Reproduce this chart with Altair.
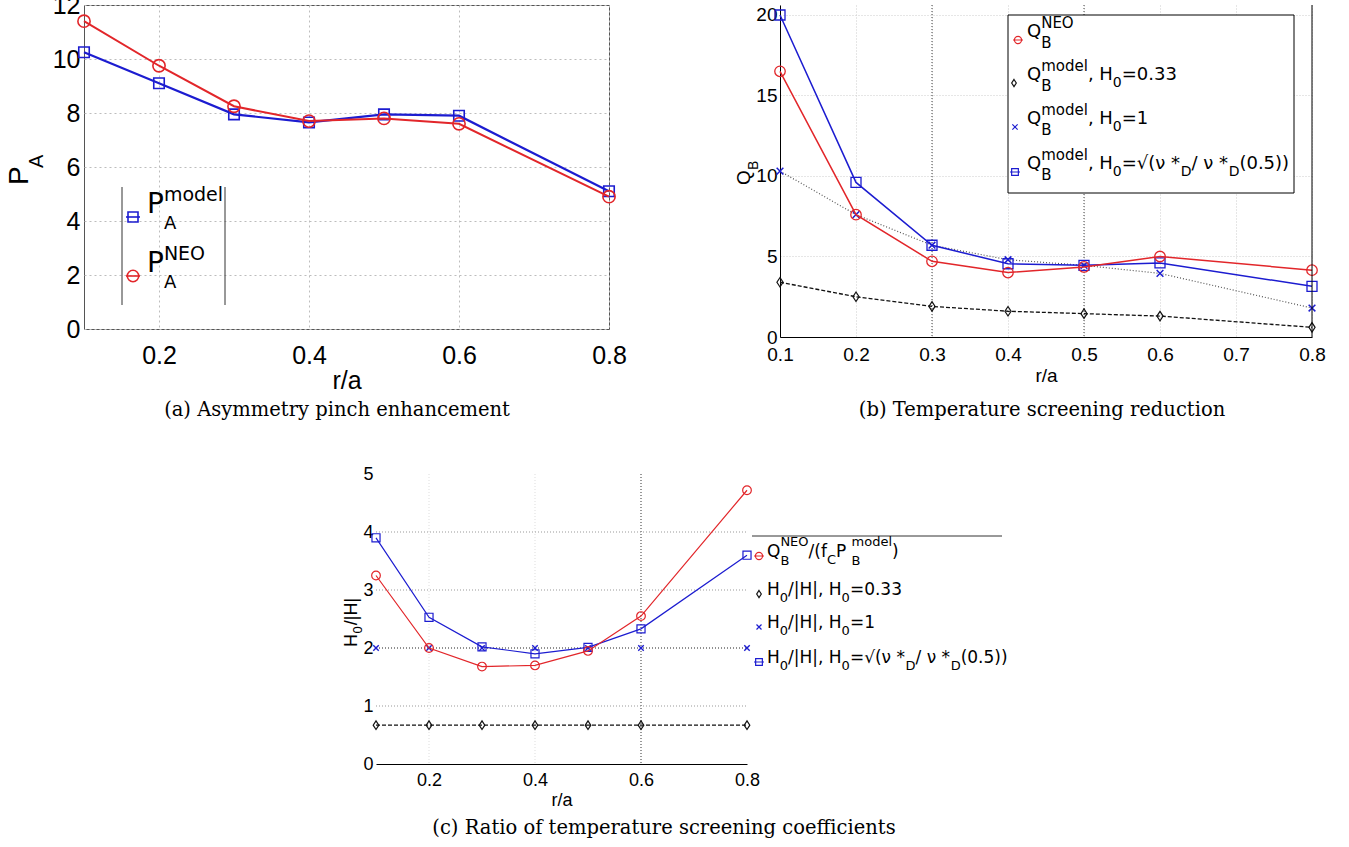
import altair as alt
import pandas as pd

# ---------------- data ----------------
r_vals = [0.1, 0.2, 0.3, 0.4, 0.5, 0.6, 0.8]

# (a) asymmetry pinch enhancement
pa_model = [10.25, 9.1, 7.95, 7.65, 7.95, 7.9, 5.1]
pa_neo = [11.4, 9.75, 8.25, 7.7, 7.8, 7.6, 4.9]

# (b) temperature screening reduction
qb_neo = [16.5, 7.6, 4.7, 4.0, 4.35, 5.0, 4.15]
qb_h033 = [3.4, 2.5, 1.9, 1.6, 1.45, 1.3, 0.6]
qb_h1 = [10.3, 7.6, 5.7, 4.8, 4.45, 3.95, 1.8]
qb_hsqrt = [20.0, 9.6, 5.7, 4.55, 4.45, 4.6, 3.15]

# (c) ratio of temperature screening coefficients
hc_neo = [3.25, 2.0, 1.68, 1.7, 1.95, 2.55, 4.72]
hc_h033 = [0.67, 0.67, 0.67, 0.67, 0.67, 0.67, 0.67]
hc_h1 = [2.0, 2.0, 2.0, 2.0, 2.0, 2.0, 2.0]
hc_hsqrt = [3.9, 2.53, 2.02, 1.9, 2.01, 2.33, 3.6]

a_xticks = [0.2, 0.4, 0.6, 0.8]
a_yticks = [0, 2, 4, 6, 8, 10, 12]
b_xticks = [0.1, 0.2, 0.3, 0.4, 0.5, 0.6, 0.7, 0.8]
b_yticks = [0, 5, 10, 15, 20]
b_dark_grid = [0.3, 0.5]
c_xticks = [0.2, 0.4, 0.6, 0.8]
c_yticks = [0, 1, 2, 3, 4, 5]
c_hgrid = [1, 2, 3, 4]
c_vgrid = [0.2, 0.4]
c_vgrid_dark = [0.6]

captions = ["(a) Asymmetry pinch enhancement",
            "(b) Temperature screening reduction",
            "(c) Ratio of temperature screening coefficients"]

# ---------------- styles ----------------
SANS = "Liberation Sans, Arial, Helvetica, sans-serif"
DV = "DejaVu Sans"
SERIF = "DejaVu Serif"
BLUE = "#1c1cd0"
RED = "#e2262a"
BLACK = "#111111"
DIAMOND = "M0,-1L0.65,0L0,1L-0.65,0Z"
XSHAPE = "M-1,-1L1,1M-1,1L1,-1"
CAP_SIZE = 19.5

ONE = alt.Data(values=[{"k": 0}])

W = {' ': 0.318, ',': 0.318, '.': 0.318, '/': 0.337, '|': 0.337, '(': 0.390,
     ')': 0.390, '*': 0.500, '=': 0.838, 'A': 0.684, 'B': 0.686, 'C': 0.698,
     'D': 0.770, 'E': 0.632, 'H': 0.752, 'N': 0.748, 'O': 0.787, 'P': 0.603,
     'Q': 0.787, 'd': 0.635, 'e': 0.615, 'f': 0.352, 'l': 0.278, 'm': 0.974,
     'o': 0.612, '\u03bd': 0.592, '\u221a': 0.636}
for _d in "0123456789":
    W[_d] = 0.636


def tw(s, size):
    return sum(W.get(ch, 0.6) for ch in s) * size


def text_piece(s, x, y, size, font, angle=0, align="left", baseline="alphabetic", color="black"):
    kw = dict(text=s, font=font, fontSize=size, align=align, baseline=baseline, color=color)
    if angle:
        kw["angle"] = angle
    return alt.Chart(ONE).mark_text(**kw).encode(x=alt.value(x), y=alt.value(y))


def rich(parts, x0, y0, size, cfg, font=DV, rot=False, color="black"):
    out = []
    pos = 0.0

    def put(s, fs, off, p):
        if rot:
            out.append(text_piece(s, x0 + off, y0 - p, fs, font, angle=270, color=color))
        else:
            out.append(text_piece(s, x0 + p, y0 + off, fs, font, color=color))

    for part in parts:
        k = part[0]
        if k == "n":
            put(part[1], size, 0, pos)
            pos += tw(part[1], size)
        elif k in ("sub", "sup"):
            fs, dy = cfg[k]
            put(part[1], fs, dy, pos)
            pos += tw(part[1], fs)
        elif k == "both":
            fs1, dy1 = cfg["bsup"]
            fs2, dy2 = cfg["bsub"]
            put(part[1], fs1, dy1, pos)
            put(part[2], fs2, dy2, pos)
            pos += max(tw(part[1], fs1), tw(part[2], fs2))
    return out


def lmark(x, y, shape, size, color, line=False, half=6, lw=1.2, sw=1.2):
    res = []
    if line:
        res.append(alt.Chart(ONE).mark_rule(color=color, strokeWidth=lw).encode(
            x=alt.value(x - half), x2=alt.value(x + half), y=alt.value(y)))
    res.append(alt.Chart(ONE).mark_point(shape=shape, size=size, color=color, filled=False,
                                         strokeWidth=sw, opacity=1).encode(
        x=alt.value(x), y=alt.value(y)))
    return res


def series(ys, X, Y, color, shape, size, lw, dash=None, line_color=None, msw=1.3):
    df = pd.DataFrame({"r": r_vals, "v": ys})
    kw = dict(color=line_color or color, strokeWidth=lw)
    if dash is not None:
        kw["strokeDash"] = dash
    line = alt.Chart(df).mark_line(**kw).encode(x=X, y=Y)
    pts = alt.Chart(df).mark_point(shape=shape, size=size, color=color, filled=False,
                                   strokeWidth=msw, opacity=1).encode(x=X, y=Y)
    return [line, pts]


# ---------------- panel (a) ----------------
AW, AH = 525, 324
Xa = alt.X("r:Q", scale=alt.Scale(domain=[0.1, 0.8], nice=False, zero=False),
           axis=alt.Axis(values=a_xticks, format=".1f", title="r/a", labelFont=SANS,
                         labelFontSize=25, labelColor="black", labelPadding=14, labelFlush=False,
                         ticks=False, domain=False, grid=True, gridColor="#bdbdbd",
                         gridDash=[2, 3], titleFont=SANS, titleFontSize=25,
                         titleFontWeight="normal", titleColor="black", titlePadding=0))
Ya = alt.Y("v:Q", scale=alt.Scale(domain=[0, 12], nice=False, zero=False),
           axis=alt.Axis(values=a_yticks, title=None, labelFont=SANS, labelFontSize=25,
                         labelColor="black", labelPadding=4, ticks=False, domain=False,
                         grid=True, gridColor="#bdbdbd", gridDash=[2, 3]))

a_layers = []
a_layers += series(pa_model, Xa, Ya, BLUE, "square", 110, 2.2, msw=1.6)
a_layers += series(pa_neo, Xa, Ya, RED, "circle", 150, 2.0, msw=1.6)
# legend
a_layers.append(alt.Chart(ONE).mark_rule(color="#333", strokeWidth=1).encode(
    x=alt.value(38), y=alt.value(182), y2=alt.value(300)))
a_layers.append(alt.Chart(ONE).mark_rule(color="#333", strokeWidth=1).encode(
    x=alt.value(141), y=alt.value(182), y2=alt.value(300)))
cfg_a = {"bsup": (19, -12), "bsub": (18, 16), "sub": (18, 16), "sup": (19, -12)}
a_layers += lmark(49, 212, "square", 100, BLUE, line=True, half=7, lw=1.6, sw=1.6)
a_layers += rich([("n", "P"), ("both", "model", "A")], 63, 208, 28, cfg_a)
a_layers += lmark(49, 271, "circle", 130, RED, line=True, half=7, lw=1.6, sw=1.6)
a_layers += rich([("n", "P"), ("both", "NEO", "A")], 63, 267, 28, cfg_a)
# y title P_A
a_layers += rich([("n", "P"), ("sub", "A")], -56, 180, 28, {"sub": (20, 15)}, font=SANS, rot=True)
a_layers.append(text_piece(captions[0], 253, 405, CAP_SIZE, SERIF, align="center", baseline="middle"))

panel_a = alt.layer(*a_layers).properties(
    width=AW, height=AH, view=alt.ViewBackground(stroke="#555", strokeWidth=1))

# ---------------- panel (b) ----------------
BW, BH = 532, 332
Xb = alt.X("r:Q", scale=alt.Scale(domain=[0.1, 0.8], nice=False, zero=False),
           axis=alt.Axis(values=b_xticks, format=".1f", title="r/a", labelFont=SANS,
                         labelFontSize=19, labelColor="black", labelPadding=8, labelFlush=False,
                         ticks=False, domain=True, domainColor="black", grid=True,
                         gridColor="#cccccc", gridDash=[1, 2], titleFont=SANS, titleFontSize=19,
                         titleFontWeight="normal", titleColor="black", titlePadding=2))
Yb = alt.Y("v:Q", scale=alt.Scale(domain=[0, 20.62], nice=False, zero=False),
           axis=alt.Axis(values=b_yticks, title=None, labelFont=SANS, labelFontSize=19,
                         labelColor="black", labelPadding=3, ticks=False, domain=True,
                         domainColor="black", grid=True, gridColor="#cccccc", gridDash=[1, 2]))

b_layers = []
b_layers.append(alt.Chart(pd.DataFrame({"r": b_dark_grid})).mark_rule(
    color="#444", strokeDash=[1, 2], strokeWidth=1).encode(x=Xb))
b_layers += series(qb_h033, Xb, Yb, BLACK, DIAMOND, 90, 1.3, dash=[4, 2], msw=1.2)
b_layers += series(qb_h1, Xb, Yb, BLUE, XSHAPE, 45, 1.2, dash=[1, 2], line_color="#555", msw=1.5)
b_layers += series(qb_hsqrt, Xb, Yb, BLUE, "square", 100, 1.5, msw=1.3)
b_layers += series(qb_neo, Xb, Yb, RED, "circle", 110, 1.5, msw=1.3)
b_layers.append(alt.Chart(ONE).mark_rule(color="black", strokeWidth=1).encode(
    x=alt.value(BW), y=alt.value(0), y2=alt.value(BH)))
# legend
b_layers.append(alt.Chart(ONE).mark_rect(fill="white", stroke="black", strokeWidth=1).encode(
    x=alt.value(228), x2=alt.value(514), y=alt.value(10), y2=alt.value(188)))
cfg_b = {"bsup": (15, -9), "bsub": (15, 11), "sub": (14, 7), "sup": (15, -9)}
b_base = [32, 75, 119, 164]
b_rows = [
    [("n", "Q"), ("both", "NEO", "B")],
    [("n", "Q"), ("both", "model", "B"), ("n", ", H"), ("sub", "0"), ("n", "=0.33")],
    [("n", "Q"), ("both", "model", "B"), ("n", ", H"), ("sub", "0"), ("n", "=1")],
    [("n", "Q"), ("both", "model", "B"), ("n", ", H"), ("sub", "0"), ("n", "=\u221a(\u03bd *"),
     ("sub", "D"), ("n", "/ \u03bd *"), ("sub", "D"), ("n", "(0.5))")],
]
b_marks = [("circle", 50, RED, True, 238), (DIAMOND, 50, BLACK, False, 234),
           (XSHAPE, 28, BLUE, False, 235), ("square", 45, BLUE, True, 235)]
for yb, parts, (shp, sz, col, ln, mx) in zip(b_base, b_rows, b_marks):
    b_layers += lmark(mx, yb + 3, shp, sz, col, line=ln, half=5, lw=1)
    b_layers += rich(parts, 247, yb, 18, cfg_b)
# y title Q_B
b_layers += rich([("n", "Q"), ("sub", "B")], -30, 180, 19, {"sub": (14, 8)}, font=SANS, rot=True)
b_layers.append(text_piece(captions[1], 262, 405, CAP_SIZE, SERIF, align="center", baseline="middle"))

panel_b = alt.layer(*b_layers).properties(width=BW, height=BH)

# ---------------- panel (c) ----------------
# panel c sits in the first column; its plot occupies pixels OX..OX+CW of that column
OX, CW, CH = 292, 371, 290
Xc = alt.X("r:Q", scale=alt.Scale(domain=[0.1, 0.8], nice=False, zero=False, range=[OX, OX + CW]),
           axis=alt.Axis(values=c_xticks, format=".1f", title="r/a", labelFont=SANS,
                         labelFontSize=18, labelColor="black", labelPadding=7, labelFlush=False,
                         ticks=False, domain=True, domainColor="black", grid=False,
                         titleFont=SANS, titleFontSize=18, titleFontWeight="normal",
                         titleColor="black", titlePadding=2))
Yc = alt.Y("v:Q", scale=alt.Scale(domain=[0, 5], nice=False, zero=False),
           axis=alt.Axis(values=c_yticks, title=None, labelFont=SANS, labelFontSize=18,
                         labelColor="black", labelPadding=3, ticks=False, domain=False,
                         grid=False, offset=-OX))

c_layers = []
c_layers.append(alt.Chart(pd.DataFrame({"r": c_vgrid})).mark_rule(
    color="#dddddd", strokeDash=[1, 2], strokeWidth=1).encode(x=Xc))
c_layers.append(alt.Chart(pd.DataFrame({"r": c_vgrid_dark})).mark_rule(
    color="#333333", strokeDash=[1, 2], strokeWidth=1).encode(x=Xc))
c_layers.append(alt.Chart(pd.DataFrame({"v": c_hgrid})).mark_rule(
    color="#999999", strokeDash=[1, 2], strokeWidth=1).encode(
    y=Yc, x=alt.value(OX), x2=alt.value(OX + CW)))
c_layers += series(hc_h033, Xc, Yc, BLACK, DIAMOND, 75, 1.2, dash=[4, 2], msw=1.2)
c_layers += series(hc_h1, Xc, Yc, BLUE, XSHAPE, 30, 1.0, dash=[1, 2], line_color="#555", msw=1.4)
c_layers += series(hc_hsqrt, Xc, Yc, BLUE, "square", 65, 1.2, msw=1.2)
c_layers += series(hc_neo, Xc, Yc, RED, "circle", 75, 1.2, msw=1.2)
# legend
c_layers.append(alt.Chart(ONE).mark_rule(color="#333", strokeWidth=1).encode(
    x=alt.value(OX + 376), x2=alt.value(OX + 626), y=alt.value(62)))
cfg_c = {"bsup": (13, -11), "bsub": (13, 8), "sub": (13, 7), "sup": (13, -11)}
c_base = [83, 121, 154, 189]
c_rows = [
    [("n", "Q"), ("both", "NEO", "B"), ("n", "/(f"), ("sub", "C"), ("n", " P"),
     ("both", "model", "B"), ("n", ")")],
    [("n", "H"), ("sub", "0"), ("n", "/|H|, H"), ("sub", "0"), ("n", "=0.33")],
    [("n", "H"), ("sub", "0"), ("n", "/|H|, H"), ("sub", "0"), ("n", "=1")],
    [("n", "H"), ("sub", "0"), ("n", "/|H|, H"), ("sub", "0"), ("n", "=\u221a(\u03bd *"),
     ("sub", "D"), ("n", "/ \u03bd *"), ("sub", "D"), ("n", "(0.5))")],
]
c_marks = [("circle", 50, RED, True), (DIAMOND, 50, BLACK, False),
           (XSHAPE, 25, BLUE, False), ("square", 45, BLUE, True)]
for yc, parts, (shp, sz, col, ln) in zip(c_base, c_rows, c_marks):
    c_layers += lmark(OX + 383, yc - 1, shp, sz, col, line=ln, half=5, lw=1)
    c_layers += rich(parts, OX + 391, yc, 17, cfg_c)
# y title H_0/|H|
c_layers += rich([("n", "H"), ("sub", "0"), ("n", "/|H|")], OX - 19, 173, 18, {"sub": (13, 5)},
                 font=SANS, rot=True)
c_layers.append(text_piece(captions[2], OX + 288, 354, CAP_SIZE, SERIF, align="center",
                           baseline="middle"))

panel_c = alt.layer(*c_layers).properties(width=AW, height=CH)

# ---------------- layout ----------------
chart = alt.concat(
    panel_a, panel_b, panel_c,
    columns=2, spacing={"row": 137, "column": 171}, bounds="flush",
).properties(
    autosize=alt.AutoSizeParams(type="none"),
    padding={"left": 84, "top": 5, "right": 1265, "bottom": 842},
).configure_view(stroke=None)

chart.save("out.html", embed_options={"renderer": "svg", "actions": False})
